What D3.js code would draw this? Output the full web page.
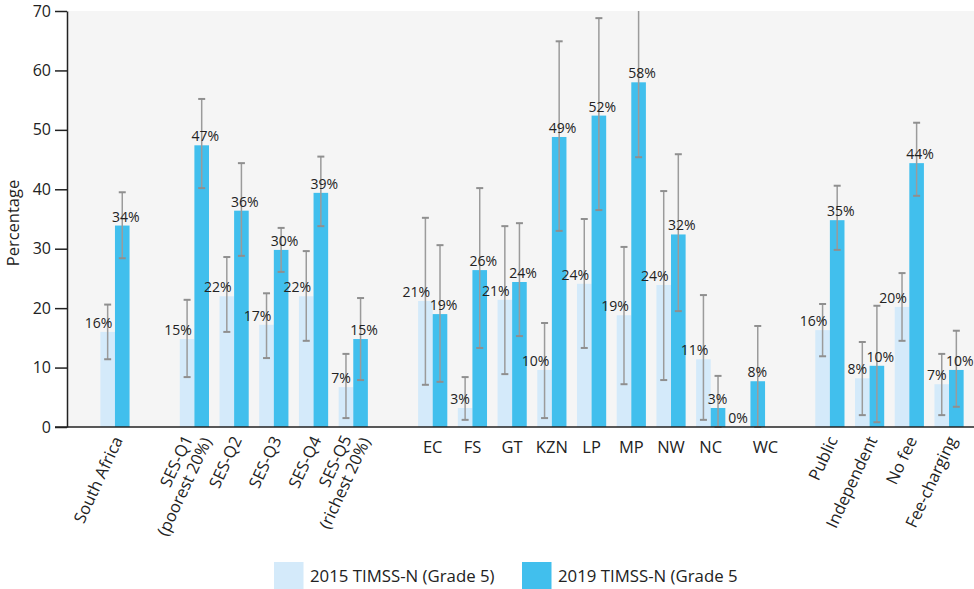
<!DOCTYPE html>
<html>
<head>
<meta charset="utf-8">
<script src="https://cdn.jsdelivr.net/npm/d3@7"></script>
<style>
  body { margin: 0; background: #fff; }
  svg { display: block; font-family: "Open Sans", sans-serif; }
</style>
</head>
<body>
<svg id="chart"></svg>
<script>
// categories along the x axis, with the group each one belongs to
const categories = [
  "South Africa",
  "SES-Q1\n(poorest 20%)", "SES-Q2", "SES-Q3", "SES-Q4", "SES-Q5\n(richest 20%)",
  "EC", "FS", "GT", "KZN", "LP", "MP", "NW", "NC", "WC",
  "Public", "Independent", "No fee", "Fee-charging"
];
const groups = [
  "national",
  "ses", "ses", "ses", "ses", "ses",
  "province", "province", "province", "province", "province", "province", "province", "province", "province",
  "school", "school", "school", "school"
];

const seriesNames = ["2015 TIMSS-N (Grade 5)", "2019 TIMSS-N (Grade 5"];

// percentages
const values2015 = [16.0, 14.8, 22.0, 17.2, 22.0, 6.7, 21.2, 3.2, 21.4, 9.6, 24.1, 18.8, 23.9, 11.4, 0, 16.3, 8.2, 20.2, 7.2];
const values2019 = [33.9, 47.4, 36.4, 29.8, 39.4, 14.8, 19.0, 26.4, 24.4, 48.8, 52.4, 58.0, 32.4, 3.2, 7.7, 34.8, 10.3, 44.4, 9.6];

// confidence intervals (null = none drawn)
const low2015 = [11.4, 8.4, 16.0, 11.6, 14.5, 1.5, 7.1, 1.2, 8.9, 1.5, 13.3, 7.2, 7.9, 1.2, null, 11.9, 2.0, 14.5, 2.0];
const high2015 = [20.6, 21.4, 28.6, 22.5, 29.6, 12.3, 35.2, 8.4, 33.8, 17.5, 35.0, 30.3, 39.7, 22.2, null, 20.7, 14.3, 25.9, 12.3];
const low2019 = [28.4, 40.2, 28.8, 26.1, 33.8, 7.9, 7.6, 13.3, 15.3, 33.0, 36.5, 45.4, 19.5, 0, 0, 29.8, 0.8, 38.9, 3.4];
const high2019 = [39.5, 55.2, 44.4, 33.5, 45.5, 21.7, 30.6, 40.2, 34.3, 64.9, 68.8, 72.0, 45.9, 8.6, 17.0, 40.6, 20.4, 51.2, 16.2];

const yTicks = [0, 10, 20, 30, 40, 50, 60, 70];

const colors = ["#d4eafa", "#41bfed"];
const width = 974, height = 589;
const plot = { left: 67, top: 11, right: 974, bottom: 427 };

const svg = d3.select("#chart").attr("width", width).attr("height", height);

// y scale
const y = d3.scaleLinear().domain([0, 70]).range([plot.bottom, plot.top]);

// x scale: one slot per category, one empty slot between groups
const slots = [];
categories.forEach((c, i) => {
  if (i > 0 && groups[i] !== groups[i - 1]) slots.push("gap" + i);
  slots.push(c);
});
const x = d3.scaleBand().domain(slots).range([95.1, 968.9]);
const barW = 14.6;
const cx = c => x(c) + x.bandwidth() / 2;

// plot background
svg.append("rect")
  .attr("x", plot.left).attr("y", plot.top)
  .attr("width", plot.right - plot.left).attr("height", plot.bottom - plot.top)
  .attr("fill", "#f5f5f5");

svg.append("clipPath").attr("id", "plotClip")
  .append("rect")
  .attr("x", plot.left).attr("y", plot.top)
  .attr("width", plot.right - plot.left).attr("height", plot.bottom - plot.top + 2);

// build rows for both series
const series = [
  { values: values2015, low: low2015, high: high2015 },
  { values: values2019, low: low2019, high: high2019 }
];
const rows = [];
series.forEach((s, k) => {
  categories.forEach((c, i) => {
    rows.push({ cat: c, k: k, v: s.values[i], lo: s.low[i], hi: s.high[i] });
  });
});

// bars
svg.append("g").selectAll("rect")
  .data(rows)
  .join("rect")
  .attr("x", d => cx(d.cat) - barW + d.k * barW)
  .attr("y", d => y(d.v))
  .attr("width", barW)
  .attr("height", d => y(0) - y(d.v))
  .attr("fill", d => colors[d.k]);

// error bars
const errG = svg.append("g").attr("clip-path", "url(#plotClip)");
const errRows = rows.filter(d => d.lo !== null);
const ex = d => cx(d.cat) - barW / 2 + d.k * barW;
errG.selectAll(".whisker")
  .data(errRows)
  .join("line")
  .attr("class", "whisker")
  .attr("x1", ex).attr("x2", ex)
  .attr("y1", d => y(d.lo)).attr("y2", d => y(d.hi))
  .attr("stroke", "#9b9b9b").attr("stroke-width", 1.5);
["lo", "hi"].forEach(key => {
  errG.selectAll(".cap-" + key)
    .data(errRows.filter(d => d[key] <= 70))
    .join("line")
    .attr("class", "cap-" + key)
    .attr("x1", d => ex(d) - 3.5).attr("x2", d => ex(d) + 3.5)
    .attr("y1", d => y(d[key])).attr("y2", d => y(d[key]))
    .attr("stroke", "#8f8f8f").attr("stroke-width", 2);
});

// value labels
svg.append("g").selectAll("text")
  .data(rows)
  .join("text")
  .attr("x", d => d.k === 0 ? cx(d.cat) - 2.5 : cx(d.cat) - 3)
  .attr("y", d => y(d.v) - 4)
  .attr("text-anchor", d => d.k === 0 ? "end" : "start")
  .attr("font-size", 14)
  .attr("fill", "#222")
  .text(d => Math.round(d.v) + "%");

// y axis
const yAxis = svg.append("g")
  .attr("transform", "translate(" + plot.left + ",0)")
  .call(d3.axisLeft(y).tickValues(yTicks).tickSize(12).tickSizeOuter(0).tickPadding(4));
yAxis.select(".domain").attr("stroke", "#222").attr("stroke-width", 1.5);
yAxis.selectAll(".tick line").attr("stroke", "#222").attr("stroke-width", 1.5);
yAxis.selectAll(".tick text")
  .attr("font-size", 16)
  .attr("font-family", "Open Sans, sans-serif")
  .attr("fill", "#222");

svg.append("text")
  .attr("transform", "translate(19,223) rotate(-90)")
  .attr("text-anchor", "middle")
  .attr("font-size", 16.5)
  .attr("fill", "#222")
  .text("Percentage");

// x axis line
svg.append("line")
  .attr("x1", plot.left - 12).attr("x2", plot.right)
  .attr("y1", y(0)).attr("y2", y(0))
  .attr("stroke", "#222").attr("stroke-width", 1.5);

// x labels
categories.forEach((c, i) => {
  const lines = c.split("\n");
  if (groups[i] === "province") {
    // the last province label sits a bit to the right in the original
    svg.append("text")
      .attr("x", cx(c) + (c === "WC" ? 15 : 0)).attr("y", 453)
      .attr("text-anchor", "middle")
      .attr("font-size", 16.5)
      .attr("fill", "#222")
      .text(c);
  } else {
    const t = svg.append("text")
      .attr("transform", "translate(" + cx(c) + ",436) rotate(-65)")
      .attr("text-anchor", "end")
      .attr("font-size", 16.5)
      .attr("fill", "#222");
    const n = lines.length;
    lines.forEach((line, j) => {
      const off = j - (n - 1) / 2;
      t.append("tspan")
        .attr("x", off * 6)
        .attr("y", 9 + off * 18)
        .text(line);
    });
  }
});

// legend
const legendX = [274, 522];
seriesNames.forEach((name, k) => {
  svg.append("rect")
    .attr("x", legendX[k]).attr("y", 562)
    .attr("width", 29.5).attr("height", 27)
    .attr("fill", colors[k]);
  svg.append("text")
    .attr("x", legendX[k] + 36).attr("y", 582)
    .attr("font-size", 16.8)
    .attr("fill", "#222")
    .text(name);
});
</script>
</body>
</html>
